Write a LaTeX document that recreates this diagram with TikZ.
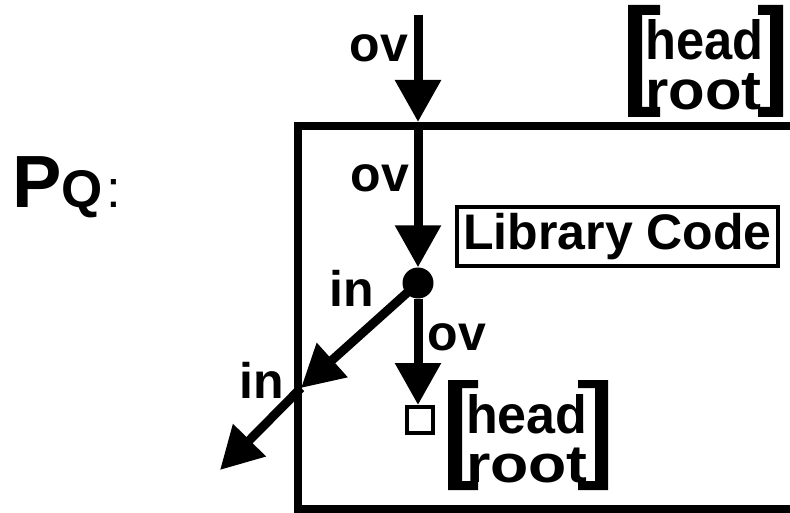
\documentclass[tikz,border=0pt]{standalone}
\usepackage{fontspec}
\setmainfont{Liberation Sans}
\usetikzlibrary{arrows.meta}
\begin{document}
\begin{tikzpicture}[x=1pt,y=-1pt,
  lab/.style={font=\fontsize{50}{50}\selectfont\bfseries, inner sep=0pt},
  hr/.style={font=\fontsize{46}{46}\selectfont\bfseries, inner sep=0pt, anchor=base west},
  arr/.style={line width=9pt, -{Triangle[width=44pt,length=42pt]}},
  bracket/.style={fill=black}]
\useasboundingbox (0,0) rectangle (790,513);
\clip (0,0) rectangle (790,513);
% outer box (extends past the right edge)
\draw[line width=8pt] (820,126) -- (298,126) -- (298,509) -- (820,509);
% coordinates
\coordinate (top) at (418,15);
\coordinate (entry) at (418,122);
\coordinate (boxin) at (418,126);
\coordinate (edge) at (301,388);
\coordinate (out) at (220,470);
% nodes
\node[circle,fill,inner sep=0pt,minimum size=31pt] (dot) at (418,283) {};
\node[draw,line width=4pt,minimum size=26pt,inner sep=0pt] (sq) at (420,420) {};
\node[lab,draw,line width=4pt,minimum width=321pt,minimum height=59pt] (lib) at (617.5,236.5) {Library Code};
% arrows
\draw[arr] (top) -- (entry);
\draw[arr] (boxin) -- (dot.north);
\draw[arr] (dot.south) -- (dot.south |- sq.north);
\draw[arr] (dot.center) -- (edge);
\draw[arr] (edge) -- (out);
% labels
\node[lab] (ov1) at (379,48) {ov};
\node[lab] (ov2) at (380,178) {ov};
\node[lab] (ov3) at (457,337) {ov};
\node[lab] (in1) at (352,288) {in};
\node[lab] (in2) at (262,380) {in};
% top head/root
\node[hr] (h1) at (645,60) {\scalebox{1.1}[1.2]{head}};
\node[hr] (r1) at (645,110) {\scalebox{1.3}[1.2]{root}};
\fill[bracket] (628,5) rectangle (660,15) (628,5) rectangle (642,117) (628,107) rectangle (660,117);
\fill[bracket] (758,5) rectangle (783,15) (770,5) rectangle (783,117) (758,107) rectangle (783,117);
% lower head/root
\node[hr] (h2) at (466,433) {\scalebox{1.13}[1.17]{head}};
\node[hr] (r2) at (466,482) {\scalebox{1.36}[1.15]{root}};
\fill[bracket] (448,380) rectangle (478,388) (448,380) rectangle (462,490) (448,481) rectangle (478,490);
\fill[bracket] (578,380) rectangle (608,388) (595,380) rectangle (608,490) (578,481) rectangle (608,490);
% title
\node[anchor=base west,inner sep=0pt] (pq) at (12,208) {\fontsize{74}{74}\selectfont\bfseries P\fontsize{53}{53}\selectfont Q\hspace{4pt}\mdseries :};
\end{tikzpicture}
\end{document}
